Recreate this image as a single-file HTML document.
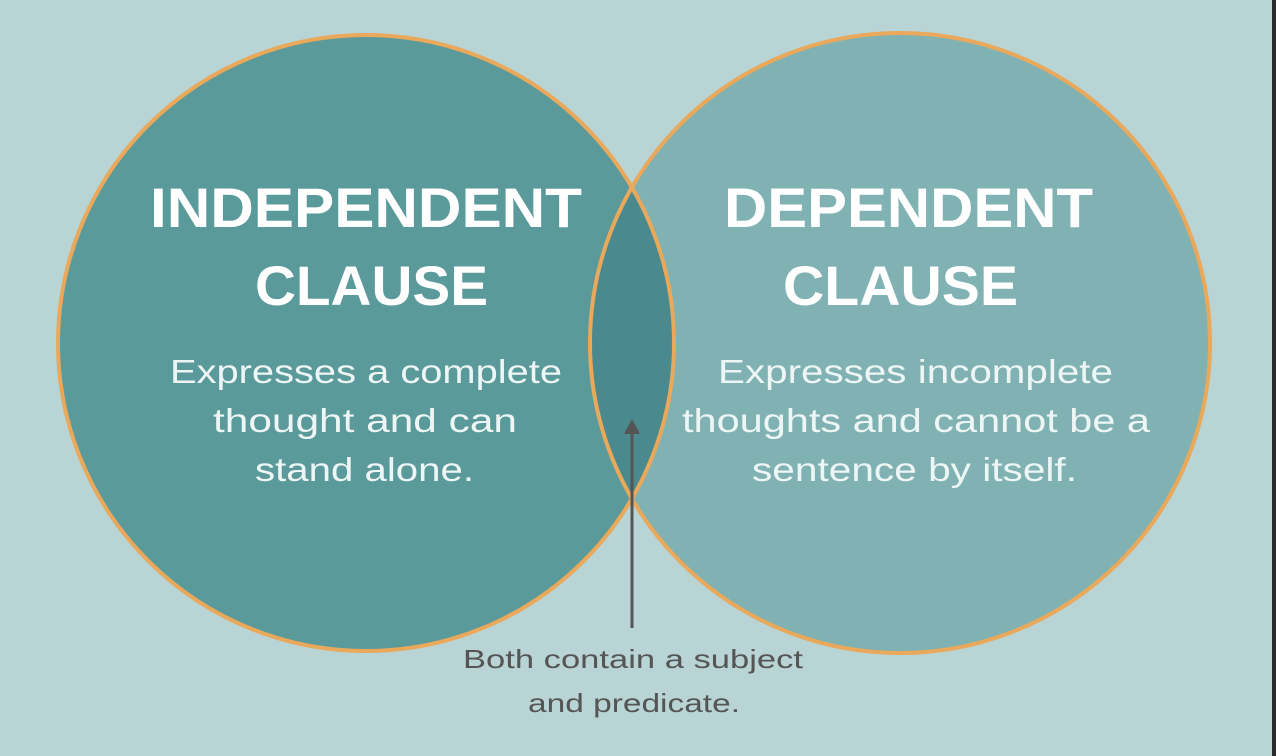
<!DOCTYPE html>
<html><head><meta charset="utf-8"><style>
html,body{margin:0;padding:0;background:#b9d4d5;}
svg{display:block}
</style></head><body>
<svg width="1276" height="756" viewBox="0 0 1276 756" xmlns="http://www.w3.org/2000/svg">
<defs>
<clipPath id="lc"><circle cx="366" cy="343" r="308"/></clipPath>
</defs>
<rect width="1276" height="756" fill="#b9d4d5"/>
<rect x="1272" y="0" width="4" height="756" fill="#2a2a2a"/>
<circle cx="366" cy="343" r="308" fill="#5a9a9b"/>
<circle cx="900" cy="343" r="310" fill="#80b2b4"/>
<circle cx="900" cy="343" r="310" fill="#4a898d" clip-path="url(#lc)"/>
<circle cx="366" cy="343" r="308" fill="none" stroke="#e9a85a" stroke-width="4"/>
<circle cx="900" cy="343" r="310" fill="none" stroke="#e9a85a" stroke-width="4"/>
<line x1="632" y1="628" x2="632" y2="432" stroke="#555" stroke-width="3"/>
<polygon points="624,434 640,434 632,419" fill="#555"/>
<g font-family="Liberation Sans, sans-serif" font-weight="bold" fill="#fff" font-size="56">
<text x="150" y="227" textLength="432" lengthAdjust="spacingAndGlyphs">INDEPENDENT</text>
<text x="255" y="305" textLength="233" lengthAdjust="spacingAndGlyphs">CLAUSE</text>
<text x="724" y="227" textLength="369" lengthAdjust="spacingAndGlyphs">DEPENDENT</text>
<text x="783" y="305" textLength="235" lengthAdjust="spacingAndGlyphs">CLAUSE</text>
</g>
<g font-family="Liberation Sans, sans-serif" fill="#eef6f5" font-size="33">
<text x="170" y="383" textLength="392" lengthAdjust="spacingAndGlyphs">Expresses a complete</text>
<text x="213" y="432" textLength="304" lengthAdjust="spacingAndGlyphs">thought and can</text>
<text x="255" y="481" textLength="219" lengthAdjust="spacingAndGlyphs">stand alone.</text>
<text x="718" y="383" textLength="395" lengthAdjust="spacingAndGlyphs">Expresses incomplete</text>
<text x="682" y="432" textLength="468" lengthAdjust="spacingAndGlyphs">thoughts and cannot be a</text>
<text x="752" y="481" textLength="325" lengthAdjust="spacingAndGlyphs">sentence by itself.</text>
</g>
<g font-family="Liberation Sans, sans-serif" fill="#555" font-size="26">
<text x="463" y="668" textLength="340" lengthAdjust="spacingAndGlyphs">Both contain a subject</text>
<text x="528" y="712" textLength="212" lengthAdjust="spacingAndGlyphs">and predicate.</text>
</g>
</svg>
</body></html>
